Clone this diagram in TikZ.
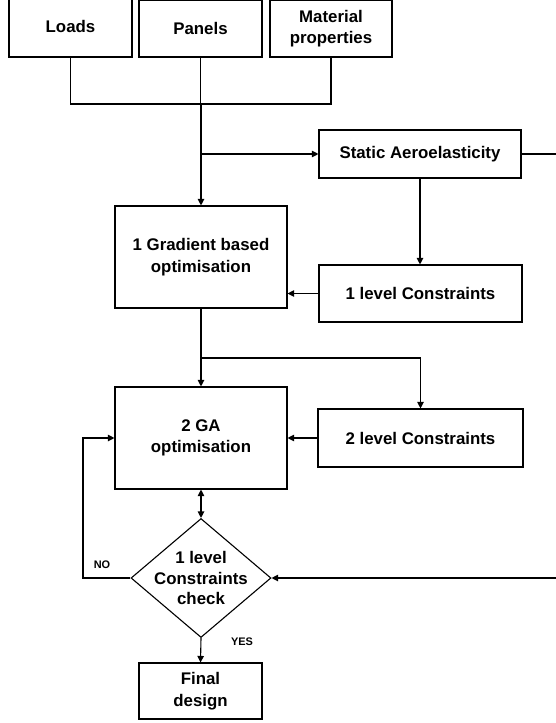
\documentclass[tikz,border=0pt]{standalone}
\usepackage{fontspec}
\setmainfont{Liberation Sans}
\usetikzlibrary{arrows.meta,shapes.geometric}
\begin{document}
\begin{tikzpicture}[x=1bp,y=-1bp,
  box/.style={draw, line width=1.1bp, inner sep=0pt, align=center, font=\bfseries\fontsize{16.9}{21.5}\selectfont},
  conn/.style={line width=1.1bp},
  arr/.style={line width=1.1bp,-{Triangle[length=6.5bp,width=6.5bp]}},
  dbl/.style={line width=1.1bp,{Triangle[length=6.5bp,width=6.5bp]}-{Triangle[length=6.5bp,width=6.5bp]}},
  small/.style={font=\bfseries\fontsize{11}{13}\selectfont, inner sep=0pt}]
\useasboundingbox (0,0) rectangle (556,723);
% top inputs
\node[box, minimum width=123bp, minimum height=61bp] (loads) at (70.5,26.5) {Loads};
\node[box, minimum width=123bp, minimum height=57bp] (panels) at (200.5,28.5) {Panels};
\node[box, minimum width=122bp, minimum height=57bp] (mat) at (331,28.5) {Material\\properties};
% main boxes
\node[box, minimum width=202bp, minimum height=48bp] (static) at (420,154) {Static Aeroelasticity};
\node[box, minimum width=172bp, minimum height=102bp] (grad) at (201,257) {1 Gradient based\\optimisation};
\node[box, minimum width=203bp, minimum height=57bp] (l1) at (420.5,293.5) {1 level Constraints};
\node[box, minimum width=172bp, minimum height=102bp] (ga) at (201,438) {2 GA\\optimisation};
\node[box, minimum width=205bp, minimum height=58bp] (l2) at (420.5,438) {2 level Constraints};
\node[draw, line width=1.1bp, diamond, inner sep=0pt, minimum width=140bp, minimum height=119bp] (dia) at (201,578) {};
\node[align=center, inner sep=0pt, font=\bfseries\fontsize{16.9}{21}\selectfont] (diatext) at (201,578) {1 level\\Constraints\\check};
\node[box, minimum width=123bp, minimum height=56bp] (final) at (200.5,691) {Final\\design};
% labels
\node[small] (nolab) at (102,565) {NO};
\node[small] (yeslab) at (242,642) {YES};
% connectors
\coordinate (j) at (201,104);
\coordinate (s) at (201,154);
\coordinate (k) at (201,358);
\coordinate (no) at (83,578);
\coordinate (r1) at (559,154);
\draw[conn] (loads.south) -- (loads.south |- j) -- (mat.south |- j) -- (mat.south);
\draw[conn] (panels.south) -- (panels.south |- j);
\draw[arr] (j) -- (grad.north);
\draw[arr] (s) -- (static.west);
\draw[arr] (static.south) -- (static.south |- l1.north);
\draw[arr] (l1.west) -- (grad.east |- l1.west);
\draw[arr] (grad.south) -- (ga.north);
\draw[arr] (k) -| (l2.north);
\draw[arr] (l2.west) -- (ga.east |- l2.west);
\draw[dbl] (ga.south) -- (dia.north);
\draw[arr] (dia.west) -- (no) |- (ga.west);
\draw[arr] (dia.south) -- (final.north);
\draw[arr] (static.east) -- (r1) |- (dia.east);
\end{tikzpicture}
\end{document}
